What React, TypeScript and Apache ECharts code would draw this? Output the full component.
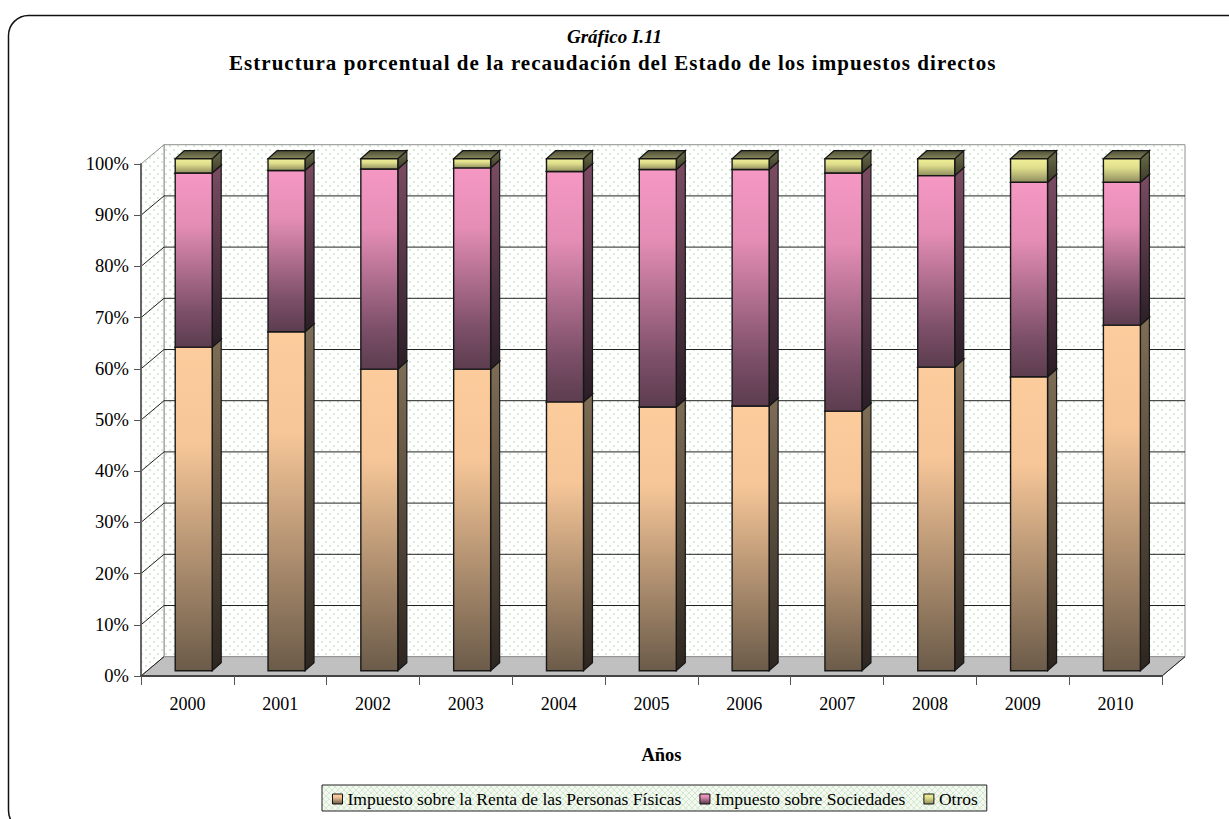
import React, { useEffect, useRef } from "react";
import * as echarts from "echarts";

const years = ["2000", "2001", "2002", "2003", "2004", "2005", "2006", "2007", "2008", "2009", "2010"];
const irpf = [63.2, 66.2, 58.9, 58.9, 52.5, 51.5, 51.7, 50.7, 59.3, 57.4, 67.5];
const sociedades = [34.0, 31.5, 39.1, 39.3, 45.0, 46.4, 46.2, 46.5, 37.4, 38.0, 27.9];
const otros = [2.8, 2.3, 2.0, 1.8, 2.5, 2.1, 2.1, 2.8, 3.3, 4.6, 4.6];
const gridTicks = [0, 10, 20, 30, 40, 50, 60, 70, 80, 90, 100];

const seriesNames = ["Impuesto sobre la Renta de las Personas Físicas", "Impuesto sobre Sociedades", "Otros"];
const SUBTITLE = "Estructura porcentual de la recaudación del Estado de los impuestos directos";
const FONT = '"Liberation Serif", "Times New Roman", serif';

const DEPTH_X = 23;
const DEPTH_Y = 19.3;
const BAR_W = 37;
const BAR_DX = 6.3;
const BAR_DY = 5.3;
const SIDE_X = 9;
const SIDE_Y = 8;

const grad = (stops: [number, string][]) =>
  new echarts.graphic.LinearGradient(0, 0, 0, 1, stops.map(([offset, color]) => ({ offset, color })));

const palettes = [
  {
    front: [[0, "#fccc9d"], [0.3, "#f6c698"], [1, "#6b5b49"]] as [number, string][],
    side: [[0, "#7f6e56"], [1, "#2d2620"]] as [number, string][],
    top: [[0, "#8a7a60"], [1, "#5a4c3c"]] as [number, string][],
  },
  {
    front: [[0, "#f598c4"], [0.3, "#e48db5"], [0.8, "#7c4f68"], [1, "#5c3d4f"]] as [number, string][],
    side: [[0, "#7b4c63"], [1, "#2b1e27"]] as [number, string][],
    top: [[0, "#7b4c63"], [1, "#5b3a4a"]] as [number, string][],
  },
  {
    front: [[0, "#f2f198"], [0.4, "#dedd8c"], [1, "#8f8e5e"]] as [number, string][],
    side: [[0, "#6e6e4c"], [1, "#3c3c28"]] as [number, string][],
    top: [[0, "#4f4f36"], [1, "#85855c"]] as [number, string][],
  },
];

function dotPattern() {
  const c = document.createElement("canvas");
  c.width = 8;
  c.height = 8;
  const g = c.getContext("2d")!;
  g.fillStyle = "#ffffff";
  g.fillRect(0, 0, 8, 8);
  g.fillStyle = "#d8ebd4";
  g.fillRect(1, 1, 2, 2);
  g.fillRect(5, 5, 2, 2);
  return { image: c, repeat: "repeat" };
}

function latticePattern() {
  const c = document.createElement("canvas");
  c.width = 6;
  c.height = 6;
  const g = c.getContext("2d")!;
  g.fillStyle = "#f3f9f1";
  g.fillRect(0, 0, 6, 6);
  g.strokeStyle = "#d3e8cf";
  g.lineWidth = 1;
  g.beginPath();
  g.moveTo(0, 0);
  g.lineTo(6, 6);
  g.moveTo(6, 0);
  g.lineTo(0, 6);
  g.stroke();
  return { image: c, repeat: "repeat" };
}

export default function App() {
  const ref = useRef<HTMLDivElement>(null);

  useEffect(() => {
    document.body.style.margin = "0";
    document.body.style.overflow = "hidden";
    const chart = echarts.init(ref.current!, undefined, { renderer: "svg" });
    const dots = dotPattern();
    const lattice = latticePattern();

    const wallRender = (params: any, api: any) => {
      const v = api.value(0);
      const cs = params.coordSys;
      const left = cs.x;
      const right = cs.x + cs.width;
      const y = api.coord([0, v])[1];
      const children: any[] = [];
      if (v === 0) {
        const yTop = api.coord([0, 100])[1];
        children.push(
          {
            type: "polygon",
            shape: { points: [[left + DEPTH_X, yTop - DEPTH_Y], [right + DEPTH_X, yTop - DEPTH_Y], [right + DEPTH_X, y - DEPTH_Y], [left + DEPTH_X, y - DEPTH_Y]] },
            style: { fill: dots, stroke: "#909090", lineWidth: 1 },
          },
          {
            type: "polygon",
            shape: { points: [[left, yTop], [left + DEPTH_X, yTop - DEPTH_Y], [left + DEPTH_X, y - DEPTH_Y], [left, y]] },
            style: { fill: dots, stroke: "#909090", lineWidth: 1 },
          },
          {
            type: "polygon",
            shape: { points: [[left, y], [right, y], [right + DEPTH_X, y - DEPTH_Y], [left + DEPTH_X, y - DEPTH_Y]] },
            style: { fill: "#c0c0c0", stroke: "#909090", lineWidth: 1 },
          },
          {
            type: "line",
            shape: { x1: left, y1: y, x2: left + DEPTH_X, y2: y - DEPTH_Y },
            style: { stroke: "#222", lineWidth: 1 },
          },
          {
            type: "line",
            shape: { x1: right, y1: y, x2: right + DEPTH_X, y2: y - DEPTH_Y },
            style: { stroke: "#222", lineWidth: 1 },
          }
        );
      } else if (v < 100) {
        children.push(
          {
            type: "line",
            shape: { x1: left + DEPTH_X, y1: y - DEPTH_Y, x2: right + DEPTH_X, y2: y - DEPTH_Y },
            style: { stroke: "#222", lineWidth: 1 },
          },
          {
            type: "line",
            shape: { x1: left, y1: y, x2: left + DEPTH_X, y2: y - DEPTH_Y },
            style: { stroke: "#222", lineWidth: 1 },
          }
        );
      }
      return { type: "group", children };
    };

    const barRender = (idx: number) => (_params: any, api: any) => {
      const cat = api.value(0);
      const low = api.coord([cat, api.value(1)]);
      const high = api.coord([cat, api.value(2)]);
      const cx = low[0] + BAR_DX;
      const x0 = cx - BAR_W / 2;
      const x1 = cx + BAR_W / 2;
      const yb = low[1] - BAR_DY;
      const yt = high[1] - BAR_DY;
      const p = palettes[idx];
      const stroke = "#171717";
      return {
        type: "group",
        children: [
          {
            type: "polygon",
            shape: { points: [[x1, yt], [x1 + SIDE_X, yt - SIDE_Y], [x1 + SIDE_X, yb - SIDE_Y], [x1, yb]] },
            style: { fill: grad(p.side), stroke, lineWidth: 1.2 },
          },
          {
            type: "polygon",
            shape: { points: [[x0, yt], [x0 + SIDE_X, yt - SIDE_Y], [x1 + SIDE_X, yt - SIDE_Y], [x1, yt]] },
            style: { fill: grad(p.top), stroke, lineWidth: 1.2 },
          },
          {
            type: "polygon",
            shape: { points: [[x0, yt], [x1, yt], [x1, yb], [x0, yb]] },
            style: { fill: grad(p.front), stroke, lineWidth: 1.4 },
          },
        ],
      };
    };

    const valueLists = [irpf, sociedades, otros];
    const barSeries = valueLists.map((vals, idx) => ({
      type: "custom",
      name: seriesNames[idx],
      coordinateSystem: "cartesian2d",
      renderItem: barRender(idx),
      encode: { x: 0, y: [1, 2] },
      itemStyle: { color: palettes[idx].front[0][1] },
      silent: true,
      z: 3 + idx,
      data: vals.map((v, i) => {
        let base = 0;
        for (let k = 0; k < idx; k++) base += valueLists[k][i];
        return [i, base, base + v];
      }),
    }));

    chart.setOption({
      animation: false,
      backgroundColor: "#ffffff",
      textStyle: { fontFamily: FONT },
      title: [
        {
          text: "Gráfico I.11",
          left: "center",
          top: 27,
          padding: 0,
          textStyle: { fontFamily: FONT, fontSize: 19, fontStyle: "italic", fontWeight: "bold", color: "#000" },
        },
        {
          text: SUBTITLE,
          left: 229,
          top: 52,
          padding: 0,
          textStyle: { fontFamily: FONT, fontSize: 21, fontWeight: "bold", color: "#000" },
        },
      ],
      graphic: [
        {
          type: "rect",
          z: 0,
          silent: true,
          shape: { x: 8.5, y: 15.5, width: 1320, height: 815, r: 20 },
          style: { fill: "none", stroke: "#111", lineWidth: 1.5 },
        },
      ],
      legend: {
        left: 322,
        top: 785,
        padding: [5, 9, 3, 10],
        itemWidth: 10,
        itemHeight: 10,
        itemGap: 18,
        borderColor: "#222",
        borderWidth: 1,
        backgroundColor: lattice,
        textStyle: { fontFamily: FONT, fontSize: 17.5, color: "#000" },
        data: seriesNames.map((name, idx) => ({
          name,
          icon: "rect",
          itemStyle: { color: grad(palettes[idx].front), borderColor: "#111", borderWidth: 1 },
        })),
      },
      grid: { left: 141, right: 67, top: 164, bottom: 143, containLabel: false },
      xAxis: {
        type: "category",
        data: years,
        z: 8,
        name: "Años",
        nameLocation: "middle",
        nameGap: 69,
        nameTextStyle: { fontFamily: FONT, fontSize: 18.5, fontWeight: "bold", color: "#000", padding: [0, 0, 0, 20] },
        axisLine: { show: true, lineStyle: { color: "#444", width: 2 } },
        axisTick: { show: true, length: 9, alignWithLabel: false, lineStyle: { color: "#555", width: 1 } },
        axisLabel: { interval: 0, margin: 19, fontFamily: FONT, fontSize: 18, color: "#000" },
        splitLine: { show: false },
      },
      yAxis: {
        type: "value",
        min: 0,
        max: 100,
        interval: 10,
        z: 8,
        axisLine: { show: true, lineStyle: { color: "#666", width: 2 } },
        axisTick: { show: true, length: 7, lineStyle: { color: "#555", width: 1 } },
        axisLabel: { formatter: "{value}%", margin: 12, padding: [3, 0, 0, 0], fontFamily: FONT, fontSize: 18.5, color: "#000" },
        splitLine: { show: false },
      },
      series: [
        {
          type: "custom",
          name: "Paredes",
          coordinateSystem: "cartesian2d",
          renderItem: wallRender,
          encode: { y: 0 },
          silent: true,
          z: 1,
          data: gridTicks.map((v) => [v]),
        },
        ...barSeries,
      ],
    });

    ref.current!.querySelectorAll("text").forEach((t) => {
      if (t.textContent === SUBTITLE) (t as any).style.letterSpacing = "1.04px";
    });

    return () => chart.dispose();
  }, []);

  return <div ref={ref} style={{ position: "absolute", left: 0, top: 0, width: 1229, height: 819 }} />;
}
